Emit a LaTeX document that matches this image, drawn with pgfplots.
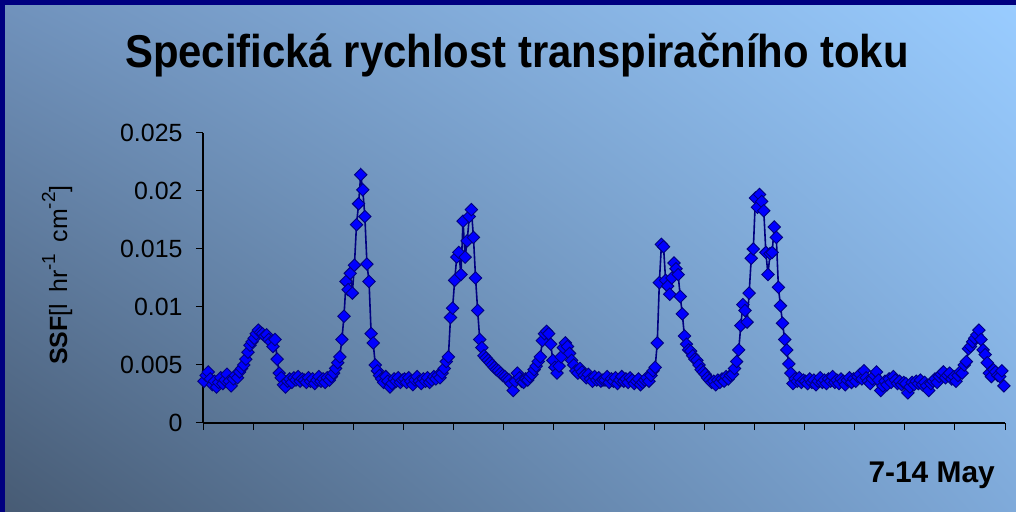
\documentclass[border=0pt]{standalone}
\usepackage{pgfplots}
\pgfplotsset{compat=1.18}
\usetikzlibrary{shadings}
\usepackage{fontspec}
\setmainfont{Liberation Sans}

\definecolor{frame}{HTML}{000080}
\definecolor{bgUL}{HTML}{7092BC}
\definecolor{bgUR}{HTML}{99CCFF}
\definecolor{bgLL}{HTML}{475B74}
\definecolor{bgLR}{HTML}{7FAADA}
\definecolor{markfill}{HTML}{0000FF}
\definecolor{lineblue}{HTML}{000080}

\newcommand{\unitexp}[1]{\raisebox{0.48em}{\fontsize{19}{20}\selectfont #1}}

\begin{document}
\begin{tikzpicture}
\useasboundingbox (0bp,0bp) rectangle (1016bp,512bp);
% slide background with navy frame
\fill[frame] (0bp,0bp) rectangle (1016bp,512bp);
\shade[upper left=bgUL, upper right=bgUR, lower left=bgLL, lower right=bgLR] (5bp,0bp) rectangle (1016bp,506bp);

\node[anchor=base, inner sep=0pt, font=\fontsize{42}{48}\selectfont\bfseries] at (517bp,444bp) {\scalebox{1}[1.1]{Specifická rychlost transpiračního toku}};
\node[rotate=90, anchor=base, inner sep=0pt, font=\fontsize{25}{28}\selectfont] at (67bp,237bp) {\textbf{SSF}[l\hspace{0.45em}hr\unitexp{-1}\hspace{0.45em}cm\unitexp{-2}]};
\node[anchor=base east, inner sep=0pt, font=\fontsize{30}{34}\selectfont\bfseries] at (995bp,30bp) {7-14 May};

\begin{axis}[
  at={(203bp,89bp)}, anchor=south west,
  scale only axis, width=802bp, height=290bp,
  xmin=-0.5, xmax=383.5, ymin=0, ymax=0.025,
  axis x line*=bottom, axis y line*=left,
  xtick pos=bottom, ytick pos=left, tick align=outside,
  xtick={-0.5,23.5,...,383.5}, xticklabels={},
  ytick={0,0.005,0.01,0.015,0.02,0.025},
  scaled y ticks=false,
  /pgf/number format/assume math mode=true,
  yticklabel style={/pgf/number format/fixed, /pgf/number format/precision=3,
    font=\fontsize{25}{28}\selectfont, xshift=-10bp},
  major tick length=7bp,
  axis line style={black, line width=1.2bp},
  tick style={black, line width=1bp},
  clip=false,
]
% sap flow in half-hour steps, 7-14 May
\addplot[lineblue, line width=1.6bp, mark=square*, mark size=4.4bp,
  mark options={fill=markfill, draw=lineblue, line width=0.9bp, rotate=45, solid}]
  table[row sep=\\, header=false, x expr=\coordindex, y index=0] {
0.0036\\0.0041\\0.0044\\0.0038\\0.0033\\0.0036\\0.0031\\0.0035\\0.0039\\0.0034\\0.0037\\0.0042\\0.0036\\0.0032\\
0.0038\\0.0041\\0.0039\\0.0044\\0.0047\\0.0050\\0.0055\\0.0061\\0.0067\\0.0070\\0.0073\\0.0077\\0.0080\\0.0078\\0.0077\\0.0075\\0.0076\\0.0072\\0.0070\\0.0066\\0.0072\\0.0055\\0.0043\\0.0039\\0.0033\\0.0031\\
0.0036\\0.0038\\0.0035\\0.0039\\0.0037\\0.0040\\0.0036\\0.0038\\
0.0037\\0.0035\\0.0039\\0.0036\\0.0038\\0.0034\\0.0037\\0.0040\\0.0036\\0.0038\\0.0035\\0.0039\\0.0037\\0.0040\\
0.0043\\0.0047\\0.0052\\0.0057\\0.0072\\0.0092\\0.0122\\0.0115\\0.0129\\0.0112\\0.0136\\0.0171\\0.0189\\0.0214\\0.0201\\0.0178\\0.0137\\0.0122\\0.0077\\0.0069\\0.0050\\0.0045\\
0.0041\\0.0038\\0.0035\\0.0040\\0.0036\\0.0031\\0.0034\\0.0038\\0.0036\\0.0039\\0.0035\\0.0037\\
0.0038\\0.0035\\0.0039\\0.0036\\0.0033\\0.0037\\0.0040\\0.0036\\0.0034\\0.0038\\0.0036\\0.0039\\0.0035\\0.0037\\0.0040\\0.0038\\0.0041\\0.0039\\
0.0043\\0.0047\\0.0053\\0.0057\\0.0091\\0.0099\\0.0123\\0.0143\\0.0147\\0.0128\\0.0174\\0.0143\\0.0157\\0.0178\\0.0184\\0.0160\\0.0125\\0.0097\\0.0072\\0.0065\\0.0058\\0.0056\\0.0054\\0.0052\\0.0050\\0.0048\\0.0046\\0.0045\\0.0043\\0.0041\\
0.0040\\0.0038\\0.0037\\0.0034\\0.0028\\0.0036\\0.0043\\0.0039\\0.0036\\0.0035\\
0.0038\\0.0037\\0.0040\\0.0042\\0.0046\\0.0049\\0.0053\\0.0057\\0.0071\\0.0077\\
0.0079\\0.0077\\0.0068\\0.0054\\0.0048\\0.0043\\0.0049\\0.0057\\0.0065\\0.0069\\
0.0066\\0.0060\\0.0054\\0.0050\\0.0045\\0.0043\\0.0047\\0.0044\\0.0041\\0.0039\\
0.0042\\0.0038\\0.0036\\0.0040\\0.0037\\0.0039\\0.0036\\0.0037\\
0.0037\\0.0040\\0.0035\\0.0038\\0.0036\\0.0039\\0.0034\\0.0037\\0.0040\\0.0036\\0.0038\\0.0035\\0.0039\\0.0037\\0.0034\\0.0036\\0.0038\\0.0033\\0.0035\\0.0037\\0.0039\\0.0036\\0.0041\\
0.0045\\0.0048\\0.0069\\0.0121\\0.0154\\0.0152\\0.0123\\0.0118\\0.0111\\0.0125\\0.0138\\0.0133\\0.0128\\0.0109\\0.0094\\0.0075\\0.0068\\0.0063\\0.0062\\0.0058\\0.0055\\0.0054\\0.0050\\0.0046\\0.0044\\
0.0042\\0.0039\\0.0037\\0.0035\\0.0036\\0.0033\\0.0037\\0.0035\\0.0038\\0.0036\\
0.0040\\0.0038\\0.0041\\0.0042\\0.0047\\0.0053\\0.0063\\0.0084\\0.0102\\0.0097\\
0.0087\\0.0112\\0.0142\\0.0150\\0.0194\\0.0186\\0.0197\\0.0191\\0.0183\\0.0147\\
0.0128\\0.0146\\0.0147\\0.0169\\0.0160\\0.0117\\0.0101\\0.0086\\0.0072\\0.0063\\
0.0051\\0.0043\\0.0034\\0.0038\\0.0036\\0.0039\\0.0035\\0.0037\\
0.0036\\0.0034\\0.0038\\0.0035\\0.0037\\0.0033\\0.0036\\0.0039\\0.0035\\0.0037\\
0.0034\\0.0038\\0.0036\\0.0040\\0.0035\\0.0037\\0.0034\\0.0038\\0.0036\\0.0033\\
0.0037\\0.0039\\0.0035\\0.0038\\0.0036\\0.0040\\0.0042\\0.0038\\0.0045\\0.0039\\
0.0036\\0.0034\\0.0038\\0.0041\\0.0044\\0.0037\\0.0028\\0.0032\\0.0036\\0.0033\\
0.0038\\0.0035\\0.0040\\0.0037\\0.0034\\0.0036\\0.0033\\0.0035\\
0.0034\\0.0026\\0.0031\\0.0035\\0.0033\\0.0036\\0.0034\\0.0037\\0.0033\\0.0035\\
0.0032\\0.0028\\0.0034\\0.0036\\0.0038\\0.0035\\0.0040\\0.0042\\0.0044\\0.0039\\
0.0041\\0.0043\\0.0038\\0.0040\\0.0036\\0.0041\\0.0044\\0.0043\\0.0050\\0.0053\\
0.0064\\0.0066\\0.0070\\0.0073\\0.0076\\0.0080\\0.0072\\0.0063\\0.0059\\0.0052\\
0.0043\\0.0040\\0.0046\\0.0044\\0.0041\\0.0040\\0.0045\\0.0032\\
};
\end{axis}
\end{tikzpicture}
\end{document}
